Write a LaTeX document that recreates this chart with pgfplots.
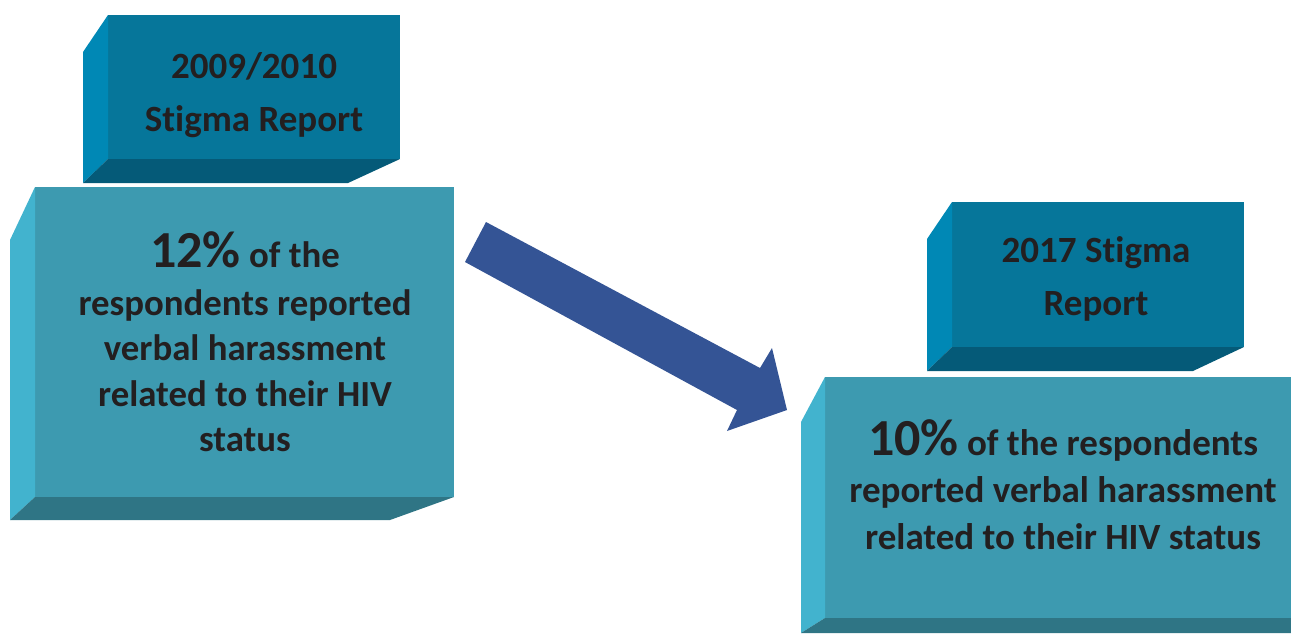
\documentclass[border=0pt]{standalone}
\usepackage{pgfplots}
\pgfplotsset{compat=1.18}
\usepackage{fontspec}
\setmainfont{Carlito}[Ligatures={NoCommon}]
\definecolor{dkfront}{HTML}{06769A}
\definecolor{dkside}{HTML}{0088B5}
\definecolor{dkbottom}{HTML}{055A78}
\definecolor{ltfront}{HTML}{3D9AB0}
\definecolor{ltside}{HTML}{42B3CE}
\definecolor{ltbottom}{HTML}{2F7585}
\definecolor{arrowc}{HTML}{345495}
\definecolor{txt}{HTML}{231F20}
\begin{document}
\begin{tikzpicture}
\begin{axis}[scale only axis, width=645.5pt, height=316.5pt,
  xmin=0, xmax=1291, ymin=0, ymax=633, y dir=reverse,
  hide axis, clip=true]
% ---- Box 1 (2009/2010 title) ----
\addplot[fill=dkfront, draw=none] coordinates {(108,15) (400,15) (400,159) (108,159)};
\addplot[fill=dkside, draw=none] coordinates {(83,52) (108,15) (108,159) (83,183)};
\addplot[fill=dkbottom, draw=none] coordinates {(83,183) (108,159) (400,159) (348,183)};
% ---- Box 2 (12%) ----
\addplot[fill=ltfront, draw=none] coordinates {(35,187) (454,187) (454,497) (35,497)};
\addplot[fill=ltside, draw=none] coordinates {(10,240) (35,187) (35,497) (10,520)};
\addplot[fill=ltbottom, draw=none] coordinates {(10,520) (35,497) (454,497) (390,520)};
% ---- Box 3 (2017 title) ----
\addplot[fill=dkfront, draw=none] coordinates {(952,202) (1244,202) (1244,347) (952,347)};
\addplot[fill=dkside, draw=none] coordinates {(927,239) (952,202) (952,347) (927,371)};
\addplot[fill=dkbottom, draw=none] coordinates {(927,371) (952,347) (1244,347) (1193,371)};
% ---- Box 4 (10%) ----
\addplot[fill=ltfront, draw=none] coordinates {(825,377) (1291,377) (1291,618) (825,618)};
\addplot[fill=ltside, draw=none] coordinates {(801,422) (825,377) (825,618) (801,633)};
\addplot[fill=ltbottom, draw=none] coordinates {(801,633) (825,618) (1291,618) (1291,633)};
% ---- Arrow ----
\addplot[fill=arrowc, draw=none] coordinates {(486,222) (760,368) (772,348) (787,410) (727,431) (737,410) (465,262)};
% ---- Texts ----
\node[align=center, text=txt, font=\bfseries\fontsize{18.5}{26.5}\selectfont] at (axis cs:254,95) {2009/2010\\Stigma Report};
\node[align=center, text=txt, font=\bfseries\fontsize{18.5}{26.5}\selectfont] at (axis cs:1096,279) {2017 Stigma\\Report};
\node[align=center, text=txt, font=\bfseries\fontsize{18.4}{22.8}\selectfont] at (axis cs:245,342)
  {{\fontsize{26}{26}\selectfont 12\%} of the\\[1pt] respondents reported\\ verbal harassment\\ related to their HIV\\ status};
\node[align=center, text=txt, font=\bfseries\fontsize{18.5}{23.5}\selectfont] at (axis cs:1063,485)
  {{\fontsize{26}{26}\selectfont 10\%} of the respondents\\ reported verbal harassment\\ related to their HIV status};
\end{axis}
\pgfresetboundingbox
\path (current axis.south west) rectangle (current axis.north east);
\end{tikzpicture}
\end{document}
